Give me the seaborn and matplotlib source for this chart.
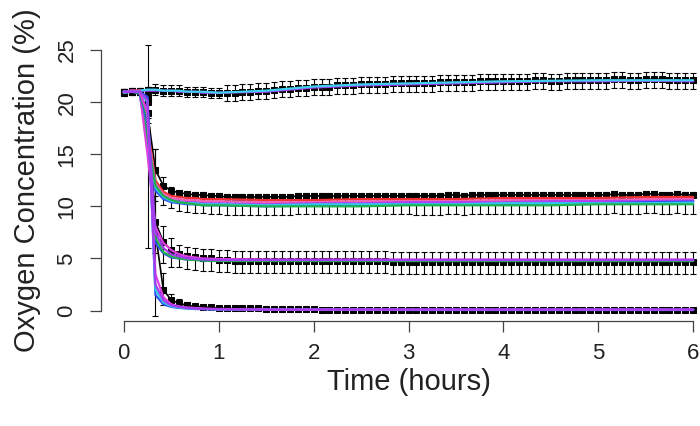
import matplotlib
matplotlib.use("Agg")
import matplotlib.pyplot as plt
import numpy as np
import pandas as pd
import seaborn as sns

# time points of the logged means (every 5 minutes, 0-6 h)
minutes = np.arange(0, 365, 5)
# sparser time points used for the individual coloured traces
trace_minutes = [0, 5, 10, 15, 20, 25, 30, 35, 40, 45, 50, 60,
                 90, 120, 150, 180, 210, 240, 270, 300, 330, 360]

# black mean traces (one per target oxygen level)
mean_21 = [20.9, 21.0, 21.1, 21.2, 21.2, 21.1, 21.1, 21.1, 21.0, 21.0, 21.0, 20.9, 20.9,
           20.9, 20.9, 21.0, 21.0, 21.1, 21.1, 21.2, 21.3, 21.3, 21.4, 21.4, 21.5,
           21.5, 21.5, 21.6, 21.6, 21.6, 21.7, 21.7, 21.7, 21.7, 21.8, 21.8, 21.8,
           21.8, 21.8, 21.8, 21.9, 21.9, 21.9, 21.9, 21.9, 22.0, 22.0, 22.0, 22.0,
           22.0, 22.0, 22.0, 22.1, 22.1, 22.0, 22.0, 22.1, 22.1, 22.1, 22.1, 22.1,
           22.1, 22.2, 22.2, 22.1, 22.1, 22.2, 22.2, 22.2, 22.1, 22.1, 22.1, 22.1]
mean_10 = [21.0, 21.1, 21.1, 19.0, 13.5, 12.0, 11.5, 11.3, 11.2, 11.1, 11.1, 11.0, 11.0,
           10.9, 10.9, 10.9, 10.9, 10.9, 10.9, 10.9, 10.9, 10.9, 11.0, 11.0, 11.0,
           11.0, 11.0, 11.0, 11.0, 11.0, 11.0, 11.0, 11.0, 11.0, 11.0, 11.0, 11.0,
           11.0, 11.0, 11.0, 11.0, 11.1, 11.1, 11.0, 11.1, 11.1, 11.1, 11.1, 11.1,
           11.1, 11.1, 11.1, 11.1, 11.1, 11.1, 11.1, 11.1, 11.1, 11.1, 11.1, 11.1,
           11.1, 11.2, 11.1, 11.1, 11.1, 11.2, 11.2, 11.1, 11.1, 11.2, 11.1, 11.1]
mean_5 = [21.0, 21.1, 21.0, 20.0, 8.5, 6.6, 5.8, 5.4, 5.2, 5.1, 5.0, 5.0, 4.9,
          4.9, 4.8, 4.8, 4.8, 4.8, 4.8, 4.8, 4.8, 4.8, 4.8, 4.8, 4.8,
          4.8, 4.8, 4.8, 4.8, 4.8, 4.8, 4.8, 4.8, 4.8, 4.7, 4.7, 4.7,
          4.7, 4.7, 4.7, 4.7, 4.7, 4.7, 4.7, 4.7, 4.7, 4.7, 4.7, 4.7,
          4.7, 4.7, 4.7, 4.7, 4.7, 4.7, 4.7, 4.7, 4.7, 4.7, 4.7, 4.7,
          4.7, 4.7, 4.7, 4.7, 4.7, 4.7, 4.7, 4.7, 4.7, 4.7, 4.7, 4.7]
mean_0 = [21.0, 21.0, 21.0, 20.5, 7.5, 2.0, 1.0, 0.7, 0.5, 0.4, 0.35, 0.3, 0.25,
          0.2, 0.2, 0.2, 0.2, 0.2, 0.15, 0.15, 0.15, 0.15, 0.15, 0.15, 0.15,
          0.1, 0.1, 0.1, 0.1, 0.1, 0.1, 0.1, 0.1, 0.1, 0.1, 0.1, 0.1,
          0.1, 0.1, 0.1, 0.1, 0.1, 0.1, 0.1, 0.1, 0.1, 0.1, 0.1, 0.1,
          0.1, 0.1, 0.1, 0.1, 0.1, 0.1, 0.1, 0.1, 0.1, 0.1, 0.1, 0.1,
          0.1, 0.1, 0.1, 0.1, 0.1, 0.1, 0.1, 0.1, 0.1, 0.1, 0.1, 0.1]

# error bar extents (upper / lower)
err_up_21 = [0.3] * 4 + [0.5] * 9 + [0.7] * 60
err_dn_21 = [0.3] * 4 + [0.5] * 9 + [0.8] * 60
err_up_10 = [0.3, 0.3, 0.3, 6.5, 2.0, 0.8, 0.4] + [0.3] * 66
err_dn_10 = [0.3, 0.3, 0.3, 13.0, 3.0, 1.9, 1.7] + [1.7] * 30 + [1.8] * 36
err_up_5 = [0.3, 0.3, 0.3, 1.0, 2.5, 1.5, 1.2] + [0.9] * 66
err_dn_5 = [0.3, 0.3, 0.3, 2.0, 3.0, 2.0, 1.6] + [1.2] * 66
err_up_0 = [0.3, 0.3, 0.3, 1.0, 8.0, 1.6, 0.6, 0.4, 0.3] + [0.15] * 64
err_dn_0 = [0.3, 0.3, 0.3, 2.0, 8.0, 1.5, 0.6, 0.4, 0.3] + [0.15] * 64

# individual coloured traces: (group, colour) -> values at trace_minutes
traces = {
    ("21", "#A23CF0"): [20.9, 21.0, 21.1, 21.1, 21.1, 21.1, 21.1, 21.0, 21.0, 21.0, 20.9,
                        20.9, 21.0, 21.4, 21.6, 21.7, 21.8, 21.9, 22.0, 22.0, 22.05, 22.0],
    ("21", "#3FD0F0"): [20.9, 21.0, 21.1, 21.2, 21.2, 21.1, 21.1, 21.1, 21.0, 21.0, 21.0,
                        20.9, 21.1, 21.5, 21.7, 21.8, 21.9, 22.0, 22.05, 22.1, 22.1, 22.1],
    ("10", "#F03030"): [21.0, 21.1, 21.1, 17.5, 12.5, 11.4, 11.0, 10.9, 10.8, 10.8, 10.7,
                        10.7, 10.6, 10.6, 10.7, 10.7, 10.7, 10.8, 10.8, 10.8, 10.9, 10.9],
    ("10", "#F060B0"): [21.0, 21.1, 21.1, 17.0, 12.2, 11.2, 10.8, 10.7, 10.6, 10.6, 10.5,
                        10.5, 10.4, 10.4, 10.5, 10.5, 10.5, 10.6, 10.6, 10.6, 10.7, 10.7],
    ("10", "#B040F0"): [21.0, 21.1, 21.0, 16.5, 12.0, 11.0, 10.6, 10.5, 10.4, 10.4, 10.3,
                        10.3, 10.2, 10.3, 10.3, 10.4, 10.4, 10.4, 10.5, 10.5, 10.5, 10.55],
    ("10", "#3050F0"): [21.0, 21.0, 21.0, 16.0, 11.5, 10.7, 10.4, 10.3, 10.2, 10.2, 10.1,
                        10.1, 10.0, 10.1, 10.1, 10.2, 10.2, 10.2, 10.3, 10.3, 10.4, 10.45],
    ("10", "#30C8E8"): [21.0, 21.0, 21.0, 16.2, 11.8, 10.9, 10.5, 10.4, 10.3, 10.3, 10.2,
                        10.2, 10.1, 10.2, 10.2, 10.2, 10.2, 10.3, 10.3, 10.3, 10.3, 10.35],
    ("10", "#20B050"): [21.0, 21.0, 21.0, 16.4, 12.0, 11.0, 10.6, 10.4, 10.3, 10.2, 10.1,
                        10.1, 10.0, 10.0, 10.0, 10.1, 10.1, 10.1, 10.1, 10.2, 10.2, 10.2],
    ("5", "#E040E0"): [21.0, 21.1, 21.0, 15.0, 8.0, 6.5, 5.8, 5.4, 5.2, 5.1, 5.0,
                       4.95, 4.9, 4.9, 4.9, 4.9, 4.9, 4.9, 4.9, 4.9, 4.9, 4.9],
    ("5", "#3050F0"): [21.0, 21.0, 20.8, 18.0, 6.5, 5.5, 5.1, 5.0, 4.9, 4.9, 4.8,
                       4.8, 4.8, 4.8, 4.8, 4.8, 4.8, 4.8, 4.8, 4.8, 4.8, 4.8],
    ("5", "#20B050"): [21.0, 21.0, 20.9, 18.5, 7.0, 5.6, 5.2, 5.0, 4.9, 4.85, 4.8,
                       4.75, 4.75, 4.75, 4.75, 4.75, 4.75, 4.75, 4.75, 4.75, 4.75, 4.75],
    ("5", "#A23CF0"): [21.0, 21.0, 21.0, 19.0, 7.5, 6.0, 5.4, 5.2, 5.0, 4.95, 4.9,
                       4.85, 4.85, 4.85, 4.85, 4.85, 4.85, 4.85, 4.85, 4.85, 4.85, 4.85],
    ("0", "#3050F0"): [21.0, 21.0, 21.0, 20.5, 1.5, 0.6, 0.35, 0.25, 0.2, 0.15, 0.15,
                       0.1, 0.1, 0.08, 0.08, 0.05, 0.05, 0.05, 0.05, 0.05, 0.05, 0.05],
    ("0", "#30C8E8"): [21.0, 21.0, 21.0, 20.0, 2.0, 0.8, 0.4, 0.3, 0.2, 0.2, 0.15,
                       0.1, 0.1, 0.1, 0.08, 0.08, 0.08, 0.08, 0.08, 0.08, 0.08, 0.08],
    ("0", "#E040E0"): [21.0, 21.0, 21.0, 19.0, 3.5, 1.3, 0.6, 0.4, 0.3, 0.25, 0.2,
                       0.15, 0.1, 0.1, 0.1, 0.1, 0.1, 0.1, 0.1, 0.1, 0.1, 0.1],
    ("0", "#A23CF0"): [21.0, 21.0, 21.0, 20.2, 2.5, 1.0, 0.5, 0.35, 0.25, 0.2, 0.15,
                       0.12, 0.1, 0.1, 0.1, 0.1, 0.1, 0.1, 0.1, 0.1, 0.1, 0.1],
}

means = {"21": (mean_21, err_dn_21, err_up_21),
         "10": (mean_10, err_dn_10, err_up_10),
         "5": (mean_5, err_dn_5, err_up_5),
         "0": (mean_0, err_dn_0, err_up_0)}

# long-form tables
hours = minutes / 60
mean_df = pd.concat([pd.DataFrame({"hours": hours, "o2": vals[0], "group": g})
                     for g, vals in means.items()], ignore_index=True)
trace_df = pd.concat([pd.DataFrame({"hours": np.array(trace_minutes) / 60, "o2": v,
                                    "group": g, "colour": c, "trace": f"{g}-{c}"})
                      for (g, c), v in traces.items()], ignore_index=True)

sns.set_theme(style="ticks")
plt.rcParams["font.family"] = ["Liberation Sans", "DejaVu Sans"]

fig = plt.figure(figsize=(7, 4.26), dpi=100)
ax = fig.add_axes([101 / 700, 105 / 426, 615 / 700, 281.4 / 426])

# error bars and black means with square markers
for g, (vals, dn, up) in means.items():
    ax.errorbar(hours, vals, yerr=[dn, up], fmt="none", ecolor="black",
                elinewidth=0.8, capsize=2.2, capthick=0.8, zorder=2)
sns.lineplot(data=mean_df, x="hours", y="o2", units="group", estimator=None,
             color="black", lw=1.2, marker="s", markersize=4.2,
             markeredgecolor="black", ax=ax, zorder=3)

# coloured traces on top
palette = {t: c for t, c in zip(trace_df["trace"], trace_df["colour"])}
sns.lineplot(data=trace_df, x="hours", y="o2", hue="trace", palette=palette,
             units="trace", estimator=None, lw=1.6, legend=False, ax=ax, zorder=4)

ax.set_xlim(-0.24, 6.24)
ax.set_ylim(-1, 26)
ax.set_xticks(range(0, 7))
ax.set_yticks(range(0, 26, 5))
for side in ("top", "right"):
    ax.spines[side].set_visible(False)
ax.spines["left"].set_bounds(0, 25)
ax.spines["bottom"].set_bounds(0, 6)
for side in ("left", "bottom"):
    ax.spines[side].set_color("#444444")
    ax.spines[side].set_linewidth(0.9)
ax.tick_params(axis="both", direction="out", length=8, width=0.9,
               color="#444444", labelsize=16, labelcolor="#222222")
ax.tick_params(axis="x", pad=8)
ax.tick_params(axis="y", pad=9)
for lab in ax.get_yticklabels():
    lab.set_rotation(90)
    lab.set_va("center")

ax.set_xlabel("Time (hours)", fontsize=21, labelpad=3, color="#222222")
ax.set_ylabel("Oxygen Concentration (%)", fontsize=21, labelpad=11, color="#222222")

fig.savefig("out.png", dpi=100)
